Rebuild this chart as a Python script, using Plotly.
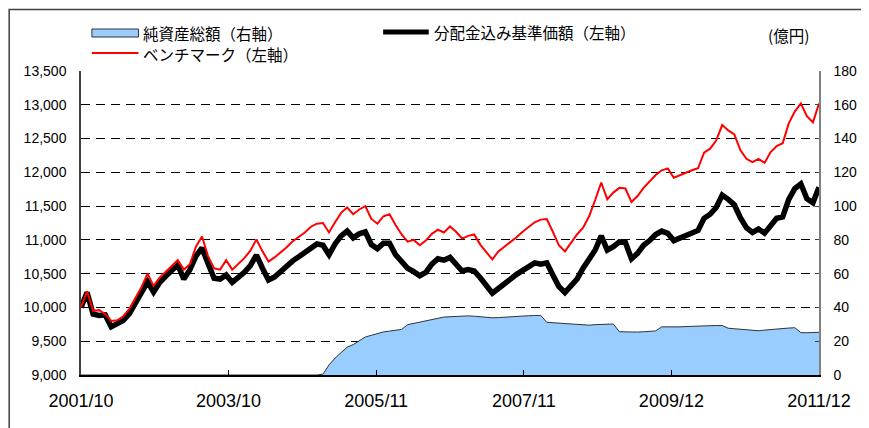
import plotly.graph_objects as go

# ---- data (monthly readings, 2001/10 .. 2011/12) ----
tick_labels = ["2001/10", "2003/10", "2005/11", "2007/11", "2009/12", "2011/12"]

nav_with_div = [
    10000, 10220, 9900, 9880, 9890, 9715, 9760, 9810, 9910, 10060,
    10200, 10380, 10230, 10370, 10460, 10550, 10630, 10420, 10560, 10760,
    10880, 10650, 10431, 10420, 10480, 10370, 10440, 10520, 10620, 10776,
    10580, 10406, 10450, 10530, 10620, 10690, 10750, 10810, 10875, 10940,
    10920, 10780, 10940, 11060, 11130, 11030, 11090, 11120, 10930, 10870,
    10950, 10950, 10780, 10670, 10580, 10530, 10470, 10520, 10640, 10720,
    10700, 10740, 10640, 10540, 10560, 10540, 10440, 10330, 10210, 10280,
    10340, 10420, 10490, 10554, 10610, 10660, 10640, 10660, 10480, 10310,
    10220, 10330, 10420, 10580, 10700, 10850, 11060, 10850, 10900, 10970,
    10960, 10720, 10800, 10920, 10990, 11080, 11130, 11097, 10990, 11030,
    11080, 11100, 11140, 11320, 11380, 11480, 11664, 11600, 11520, 11330,
    11180, 11110, 11160, 11100, 11220, 11320, 11340, 11600, 11760, 11830,
    11610, 11550, 11780,
]

benchmark = [
    10000, 10240, 9950, 9960, 9900, 9800, 9810, 9870, 9980, 10140,
    10300, 10500, 10320, 10440, 10530, 10620, 10700, 10560, 10640, 10900,
    11050, 10760, 10579, 10560, 10700, 10560, 10640, 10730, 10840, 11008,
    10830, 10680, 10740, 10810, 10890, 10980, 11040, 11110, 11195, 11240,
    11250, 11110, 11260, 11400, 11480, 11380, 11450, 11500, 11310, 11240,
    11350, 11380, 11220, 11080, 10973, 11000, 10920, 10990, 11090, 11150,
    11110, 11200, 11120, 11020, 11060, 11080, 10930, 10820, 10710, 10830,
    10900, 10960, 11040, 11121, 11190, 11260, 11300, 11310, 11120, 10920,
    10830, 10960, 11080, 11180, 11350, 11590, 11850, 11600, 11700, 11770,
    11760, 11560, 11650, 11770, 11860, 11960, 12030, 12059, 11920, 11960,
    12000, 12030, 12060, 12290, 12350, 12470, 12700, 12620, 12560, 12330,
    12200, 12150, 12200, 12140, 12300, 12390, 12430, 12725, 12900, 13020,
    12830, 12740, 13020,
]

net_assets = [
    0, 0, 0, 0, 0, 0, 0, 0, 0, 0,
    0, 0, 0, 0, 0, 0, 0, 0, 0, 0,
    0, 0, 0, 0, 0, 0, 0, 0, 0, 0,
    0, 0, 0, 0, 0, 0, 0, 0, 0, 0,
    0.5, 6, 10, 13, 16.5, 18, 20.5, 22.5, 23.5, 24.5,
    25.5, 26, 26.5, 27, 29.8, 30.5, 31.5, 32.3, 33, 33.7,
    34.3, 34.5, 34.7, 34.9, 35, 34.8, 34.4, 34.2, 33.9, 34,
    34.3, 34.6, 34.8, 35, 35.1, 35.2, 35.3, 31.2, 31, 30.7,
    30.4, 30.3, 30, 29.7, 29.5, 29.8, 30, 30.1, 30.2, 25.6,
    25.5, 25.3, 25.4, 25.6, 25.8, 26.1, 28.5, 28.4, 28.3, 28.5,
    28.7, 28.9, 29, 29.1, 29.2, 29.3, 29.3, 27.7, 27.4, 27.1,
    26.8, 26.5, 26.2, 26.6, 27, 27.3, 27.6, 27.8, 28, 25.1,
    25, 25.2, 25.3,
]

names = ["純資産総額（右軸）", "分配金込み基準価額（左軸）", "ベンチマーク（左軸）"]

n = len(nav_with_div)
xs = list(range(n))
tickvals = [i * (n - 1) / 5 for i in range(len(tick_labels))]

# ---- layout geometry (window pixels; page body has an 8px margin) ----
OFF = 8
W, H = 869 - OFF, 428 - OFF
Lw, Rw, Tw, Bw = 81, 826, 71, 375          # plot area in window pixels
L, R, T, B = Lw - OFF, Rw - OFF, Tw - OFF, Bw - OFF


def px(xw):
    return (xw - Lw) / (Rw - Lw)


def py(yw):
    return (Bw - yw) / (Bw - Tw)


NUM_FONT = "Liberation Sans, Arial, sans-serif"
JP_FONT = "Noto Sans CJK JP, sans-serif"

fig = go.Figure()

fig.add_trace(go.Scatter(
    x=xs, y=net_assets, yaxis="y2", mode="lines", fill="tozeroy",
    fillcolor="#99CCFF", line=dict(color="#333333", width=1),
    name=names[0], showlegend=False, hoverinfo="skip",
))
fig.add_trace(go.Scatter(
    x=xs, y=nav_with_div, mode="lines",
    line=dict(color="#000000", width=5.5),
    name=names[1], showlegend=False,
))
fig.add_trace(go.Scatter(
    x=xs, y=benchmark, mode="lines",
    line=dict(color="#FF0000", width=2),
    name=names[2], showlegend=False,
))

fig.update_layout(
    width=W, height=H, autosize=False,
    margin=dict(l=L, r=W - R, t=T, b=H - B, pad=0),
    paper_bgcolor="white", plot_bgcolor="white",
    xaxis=dict(
        range=[0, n - 1], tickmode="array", tickvals=tickvals, ticktext=tick_labels,
        showgrid=False, zeroline=False, showline=True, linecolor="#000000", linewidth=1.5,
        ticks="inside", ticklen=5, tickcolor="#000000", tickwidth=1,
        tickfont=dict(family=NUM_FONT, size=18, color="#000000"),
        ticklabelstandoff=9,
    ),
    yaxis=dict(
        range=[9000, 13500], dtick=500, tick0=9000, tickformat=",d",
        showgrid=True, gridcolor="#000000", gridwidth=1, griddash="9px,6px",
        zeroline=False, showline=True, linecolor="#404040", linewidth=1.5,
        ticks="", tickfont=dict(family=NUM_FONT, size=14, color="#000000"),
        ticklabelstandoff=10,
    ),
    yaxis2=dict(
        range=[0, 180], dtick=20, tick0=0, overlaying="y", side="right",
        showgrid=False, zeroline=False, showline=True, linecolor="#808080", linewidth=1.5,
        ticks="inside", ticklen=4, tickcolor="#404040",
        tickfont=dict(family=NUM_FONT, size=14, color="#000000"),
        ticklabelstandoff=10,
    ),
)

shapes = [
    # outer frame
    dict(type="rect", xref="paper", yref="paper",
         x0=px(8.5), x1=px(890), y0=py(450), y1=py(9.5),
         line=dict(color="#404040", width=1.5), fillcolor="rgba(0,0,0,0)", layer="below"),
    # legend symbols
    dict(type="rect", xref="paper", yref="paper",
         x0=px(92), x1=px(139), y0=py(37), y1=py(29),
         line=dict(color="#333333", width=1), fillcolor="#99CCFF"),
    dict(type="line", xref="paper", yref="paper",
         x0=px(386), x1=px(432), y0=py(32), y1=py(32),
         line=dict(color="#000000", width=5)),
    dict(type="line", xref="paper", yref="paper",
         x0=px(92), x1=px(139), y0=py(53), y1=py(53),
         line=dict(color="#FF0000", width=2)),
]

annotations = [
    dict(text=names[0], x=px(142), y=py(33)),
    dict(text=names[1], x=px(435), y=py(32)),
    dict(text=names[2], x=px(142), y=py(54)),
    dict(text="(億円)", x=px(772), y=py(35)),
]
for a in annotations:
    a.update(xref="paper", yref="paper", xanchor="left", yanchor="middle",
             showarrow=False, font=dict(family=JP_FONT, size=15.5, color="#000000"))

fig.update_layout(shapes=shapes, annotations=annotations)

fig.write_html("out.html")
